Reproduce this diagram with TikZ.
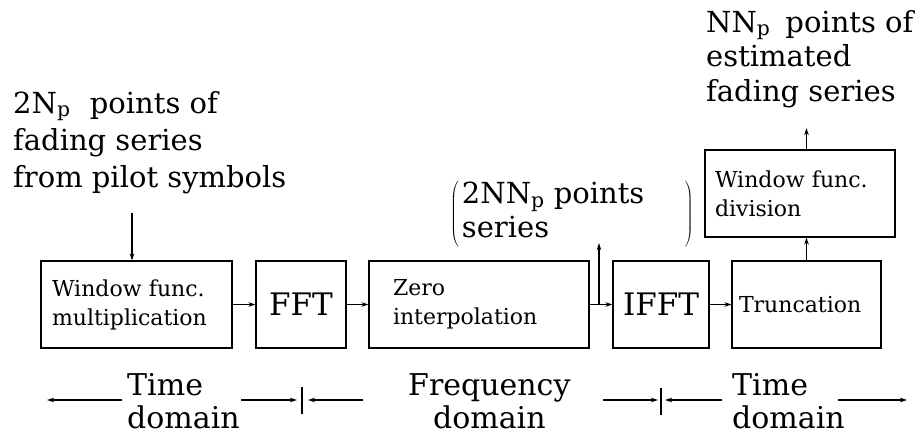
\documentclass[tikz,border=0pt]{standalone}
\usepackage{fontspec}
\setmainfont{DejaVu Serif}
\usetikzlibrary{arrows.meta}

\begin{document}
\begin{tikzpicture}[x=1pt,y=-1pt]
    \useasboundingbox (0,0) rectangle (924,442);
    \begin{scope}[every node/.style={draw, line width=1.2pt, minimum height=87pt, inner ysep=0pt,
        align=left, font=\fontsize{22}{29}\selectfont}]
        \node[inner xsep=11pt, text width=169pt] (winmul) at (136.5,304.5) {Window func.\\multiplication};
        \node[minimum width=90pt, font=\fontsize{31}{31}\selectfont] (fft) at (301,304.5) {FFT};
        \node[inner xsep=24pt, text width=172pt] (zero) at (479,304.5) {Zero\\interpolation};
        \node[minimum width=96pt, font=\fontsize{31}{31}\selectfont] (ifft) at (661,304.5) {IFFT};
        \node[inner xsep=7pt, text width=135pt] (trunc) at (806.5,304.5) {Truncation};
        \node[inner xsep=10pt, text width=170pt] (windiv) at (800,193.5) {Window func.\\division};
    \end{scope}
    % anchors sit on the last baseline
    \begin{scope}[every node/.style={anchor=base west, align=left, inner sep=0pt,
        font=\fontsize{29}{37}\selectfont}]
        \node (pilot) at (13,187) {2N\textsubscript{p}\hspace{0.35em} points of\\fading series\\from pilot symbols};
        \node[font=\fontsize{29}{34.5}\selectfont] (est) at (706,101) {NN\textsubscript{p}\hspace{0.2em} points of\\estimated\\fading series};
        \node[anchor=west, font=\fontsize{29}{34}\selectfont] (ser) at (450,214)
            {$\left(\begin{tabular}{@{\hspace{3pt}}p{223pt}@{}}2NN\textsubscript{p} points\\series\end{tabular}\right)$};
        \node[font=\fontsize{30}{33}\selectfont] (tdl) at (127,428) {Time\\domain};
        \node[align=center, font=\fontsize{30}{33}\selectfont] (fdm) at (408,428) {Frequency\\domain};
        \node[font=\fontsize{30}{33}\selectfont] (tdr) at (732,428) {Time\\domain};
    \end{scope}
    % free ends
    \coordinate (intop) at (132,213);
    \coordinate (brtop) at (599,243);
    \coordinate (outtip) at (806.5,128);
    \coordinate (tk1) at (302,400);
    \coordinate (tk2) at (661,400);
    \foreach \n/\x in {1/122, 2/47, 3/241, 4/297, 5/363, 6/308, 7/603, 8/658, 9/722, 10/665, 11/838, 12/907}
        \coordinate (d\n) at (\x,400);
    \begin{scope}[every edge/.style={-{Stealth[length=7pt,width=4.5pt]}, draw=black, line width=1.2pt}]
        \path (intop) edge (intop |- winmul.north);
        \path (winmul) edge (fft);
        \path (fft) edge (zero);
        \path (zero) edge (ifft);
        \path (zero.east -| brtop) edge (brtop);
        \path (ifft) edge (trunc);
        \path (trunc.north) edge (trunc.north |- windiv.south);
        \path (outtip |- windiv.north) edge (outtip);
        \path (d1) edge (d2);
        \path (d3) edge (d4);
        \path (d5) edge (d6);
        \path (d7) edge (d8);
        \path (d9) edge (d10);
        \path (d11) edge (d12);
    \end{scope}
    \draw[line width=1.2pt] ([yshift=13pt]tk1) -- ([yshift=-14pt]tk1);
    \draw[line width=1.2pt] ([yshift=12pt]tk2) -- ([yshift=-15pt]tk2);
\end{tikzpicture}
\end{document}
